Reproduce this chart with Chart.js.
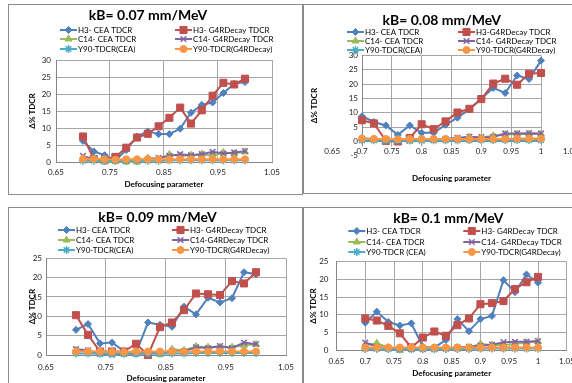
<!DOCTYPE html>
<html>
<head>
<meta charset="utf-8">
<script src="https://cdn.jsdelivr.net/npm/chart.js@4/dist/chart.umd.min.js"></script>
<style>
  html, body { margin: 0; padding: 0; background: #fff; width: 572px; height: 383px; overflow: hidden; }
  .panel { position: absolute; border: 1px solid #8c8c8c; background: #fff; overflow: hidden; }
  .panel canvas { position: absolute; left: 0; top: 0; }
</style>
</head>
<body>
<div class="panel" style="left:8px;top:4px;width:293px;height:189px"><canvas id="c07" width="293" height="189"></canvas></div>
<div class="panel" style="left:303px;top:4px;width:278px;height:188px"><canvas id="c08" width="278" height="188"></canvas></div>
<div class="panel" style="left:8px;top:207px;width:293px;height:188px"><canvas id="c09" width="293" height="188"></canvas></div>
<div class="panel" style="left:303px;top:207px;width:278px;height:188px"><canvas id="c10" width="278" height="188"></canvas></div>
<script>
// defocusing parameter of every point
const xValues = [0.70, 0.72, 0.74, 0.76, 0.78, 0.80, 0.82, 0.84, 0.86, 0.88, 0.90, 0.92, 0.94, 0.96, 0.98, 1.00];
const xTicksWide = [0.65, 0.75, 0.85, 0.95, 1.05];
const xTicksFine = [0.65, 0.70, 0.75, 0.80, 0.85, 0.90, 0.95, 1.00, 1.05];

// kB = 0.07
const h3Cea07  = [6.2, 3.1, 2.0, 0.5, 3.5, 7.5, 9.0, 8.2, 8.2, 9.8, 14.5, 16.8, 17.5, 20.3, 23.0, 23.5];
const h3G4r07  = [7.5, 0.9, 0.5, 1.5, 4.2, 7.2, 8.3, 10.5, 13.0, 16.0, 11.3, 15.2, 19.5, 23.3, 22.8, 24.5];
const c14Cea07 = [1.0, 0.5, 0.1, 0.2, 0.0, 0.0, 1.2, 0.8, 2.2, 1.8, 2.0, 2.3, 1.8, 2.8, 2.5, 3.0];
const c14G4r07 = [1.8, 0.8, 0.6, 0.5, 0.5, 0.5, 0.8, 1.2, 1.8, 2.3, 2.0, 2.3, 3.0, 2.5, 2.8, 3.2];
const y90Cea07 = [0.4, 0.4, 0.3, 0.3, 0.3, 0.3, 0.4, 0.4, 0.5, 0.5, 0.5, 0.5, 0.5, 0.5, 0.5, 0.5];
const y90G4r07 = [0.9, 0.9, 0.8, 0.7, 0.8, 0.8, 0.8, 0.8, 0.8, 0.8, 0.8, 0.8, 0.8, 0.8, 0.8, 0.8];
const labels07 = ["H3- CEA TDCR", "H3- G4RDecay TDCR", "C14- CEA TDCR", "C14- G4RDecay TDCR", "Y90-TDCR(CEA)", "Y90-TDCR(G4RDecay)"];

// kB = 0.08
const h3Cea08  = [8.8, 6.8, 5.6, 2.3, 5.6, 3.0, 3.0, 5.8, 8.3, 11.2, 15.0, 18.7, 16.9, 23.0, 21.8, 28.2];
const h3G4r08  = [7.4, 6.3, 0.2, 0.0, 1.2, 6.0, 4.3, 7.0, 10.1, 11.4, 14.8, 20.2, 21.9, 19.8, 23.6, 23.9];
const c14Cea08 = [1.2, 0.8, 0.3, 0.3, 0.3, 0.5, 0.5, 0.6, 1.0, 1.6, 1.4, 2.0, 2.4, 2.6, 2.6, 2.6];
const c14G4r08 = [0.9, 0.6, 0.1, 0.1, 0.3, 0.6, 0.7, 0.9, 1.3, 1.6, 1.5, 1.6, 2.8, 2.8, 2.9, 2.8];
const y90Cea08 = [0.4, 0.4, 0.3, 0.3, 0.3, 0.3, 0.4, 0.4, 0.4, 0.5, 0.5, 0.5, 0.5, 0.5, 0.5, 0.5];
const y90G4r08 = [1.0, 0.9, 0.9, 0.8, 0.9, 0.9, 0.9, 0.9, 0.9, 0.9, 0.9, 0.9, 0.9, 1.0, 1.0, 1.0];
const labels08 = ["H3- CEA TDCR", "H3-G4RDecay TDCR", "C14- CEA TDCR", "C14- G4RDecay TDCR", "Y90-TDCR(CEA)", "Y90-TDCR(G4RDecay)"];

// kB = 0.09
const h3Cea09  = [6.5, 8.0, 3.0, 3.2, 1.0, 0.4, 8.4, 7.8, 7.3, 12.5, 10.5, 14.8, 13.6, 14.7, 21.4, 20.9];
const h3G4r09  = [10.3, 5.2, 0.9, 0.9, 0.9, 2.9, 0.0, 7.2, 8.4, 11.6, 15.9, 15.7, 15.5, 19.1, 18.5, 21.4];
const c14Cea09 = [1.2, 1.0, 0.5, 0.3, 0.3, 0.5, 0.7, 0.1, 1.5, 1.2, 2.2, 2.0, 2.0, 2.0, 2.5, 2.8];
const c14G4r09 = [1.5, 1.2, 0.3, 0.1, 0.3, 0.3, 0.5, 0.5, 1.0, 1.0, 2.0, 1.8, 2.3, 1.8, 3.2, 2.8];
const y90Cea09 = [0.4, 0.4, 0.3, 0.3, 0.3, 0.3, 0.3, 0.4, 0.4, 0.4, 0.5, 0.5, 0.5, 0.5, 0.5, 0.5];
const y90G4r09 = [0.9, 0.9, 0.9, 0.8, 0.8, 0.9, 0.9, 0.9, 0.9, 0.9, 0.9, 0.9, 0.9, 0.9, 0.9, 0.9];
const labels09 = ["H3- CEA TDCR", "H3- G4RDecay TDCR", "C14- CEA TDCR", "C14-G4RDecay TDCR", "Y90-TDCR(CEA)", "Y90-TDCR(G4RDecay)"];

// kB = 0.1
const h3Cea10  = [7.8, 10.9, 8.0, 7.0, 7.6, 1.0, 0.8, 2.9, 8.8, 5.4, 8.8, 9.7, 19.8, 16.4, 21.4, 19.1];
const h3G4r10  = [9.0, 8.4, 6.9, 4.8, 0.8, 3.6, 5.3, 4.1, 7.1, 9.0, 13.0, 13.3, 13.9, 17.3, 19.2, 20.7];
const c14Cea10 = [1.5, 2.0, 0.8, 0.0, 0.5, 0.5, 0.5, 0.6, 0.8, 0.8, 1.8, 1.5, 1.5, 1.8, 2.2, 2.5];
const c14G4r10 = [2.2, 1.0, 0.6, 0.3, 0.3, 0.3, 0.3, 0.5, 0.8, 1.0, 1.3, 1.6, 2.3, 2.4, 2.4, 2.6];
const y90Cea10 = [0.4, 0.4, 0.3, 0.3, 0.3, 0.3, 0.3, 0.4, 0.4, 0.4, 0.5, 0.5, 0.5, 0.5, 0.5, 0.5];
const y90G4r10 = [0.8, 0.8, 0.8, 0.8, 0.8, 0.8, 0.8, 0.8, 0.8, 0.8, 0.8, 0.8, 0.8, 0.8, 0.8, 0.8];
const labels10 = ["H3- CEA TDCR", "H3- G4RDecay TDCR", "C14- CEA TDCR", "C14- G4RDecay TDCR", "Y90-TDCR (CEA)", "Y90-TDCR(G4RDecay)"];

// excel 2010 palette + markers
const seriesColors  = ["#4F81BD", "#C0504D", "#9BBB59", "#8064A2", "#4BACC6", "#F79646"];
const seriesMarkers = ["rectRot", "rect", "triangle", "crossRot", "star", "circle"];
const seriesRadius  = [3.5, 5, 4, 4, 4, 3.5];

const FONT = "Lato, 'Liberation Sans', sans-serif";
const gridColor = "#a6a6a6";
const axisColor = "#868686";

Chart.defaults.font.family = FONT;
Chart.defaults.color = "#000";

// title + 2 column legend, drawn like the excel one
const panelHeader = {
  id: "panelHeader",
  beforeDatasetsDraw(chart, args, o) {
    // excel stops the grid just under the zero line when the axis crosses at 0
    if (!o.cutBelowZero) return;
    const area = chart.chartArea;
    const y0 = chart.scales.y.getPixelForValue(0) + 5;
    const ctx = chart.ctx;
    ctx.save();
    ctx.fillStyle = "#fff";
    ctx.fillRect(area.left - 2, y0, area.right - area.left + 4, area.bottom - y0 + 2);
    ctx.restore();
  },
  afterDraw(chart, args, o) {
    const ctx = chart.ctx;
    ctx.save();
    ctx.fillStyle = "#000";
    ctx.font = "bold 14px " + FONT;
    ctx.textAlign = "center";
    ctx.textBaseline = "middle";
    ctx.fillText(o.title, o.titleX, o.titleY);

    chart.data.datasets.forEach((ds, i) => {
      const x = o.legendCols[i % 2];
      const y = o.legendRows[Math.floor(i / 2)];
      ctx.strokeStyle = ds.borderColor;
      ctx.lineWidth = 2;
      ctx.beginPath();
      ctx.moveTo(x, y);
      ctx.lineTo(x + 17, y);
      ctx.stroke();
      ctx.fillStyle = ds.pointBackgroundColor;
      ctx.lineWidth = ds.pointBorderWidth;
      Chart.helpers.drawPoint(ctx, {
        pointStyle: ds.pointStyle, radius: ds.pointRadius, rotation: 0, borderWidth: ds.pointBorderWidth
      }, x + 8.5, y);
      ctx.fillStyle = "#000";
      ctx.font = "8px " + FONT;
      ctx.textAlign = "left";
      ctx.fillText(ds.label, x + 18, y + 0.5);
    });
    ctx.restore();
  }
};

function makeChart(canvasId, p) {
  const canvas = document.getElementById(canvasId);
  const W = canvas.width, H = canvas.height;

  const datasets = p.series.map((vals, i) => ({
    label: p.labels[i],
    data: vals.map((y, j) => ({ x: xValues[j], y: y })),
    borderColor: seriesColors[i],
    backgroundColor: seriesColors[i],
    pointBackgroundColor: seriesColors[i],
    pointBorderColor: seriesColors[i],
    pointStyle: seriesMarkers[i],
    pointRadius: seriesRadius[i],
    pointBorderWidth: (i === 3 || i === 4) ? 1.5 : 1,
    borderWidth: 2,
    tension: 0,
    clip: false,
    order: 5 - i   // later series on top, like excel
  }));

  return new Chart(canvas, {
    type: "line",
    data: { datasets: datasets },
    plugins: [panelHeader],
    options: {
      responsive: false,
      animation: false,
      events: [],
      layout: {
        padding: { left: 0, top: p.area.top, right: W - p.area.right, bottom: p.xAtZero ? H - p.area.bottom : 0 }
      },
      plugins: {
        legend: { display: false },
        tooltip: { enabled: false },
        panelHeader: {
          title: p.title, titleX: p.titleX, titleY: p.titleY,
          legendCols: p.legendCols, legendRows: p.legendRows,
          cutBelowZero: !!p.xAtZero
        }
      },
      scales: {
        x: {
          type: "linear",
          min: p.xMin,
          max: p.xMax,
          position: p.xAtZero ? { y: 0 } : "bottom",
          afterBuildTicks: s => { s.ticks = p.xTicks.map(v => ({ value: v })); },
          afterFit: s => { s.height = p.xAtZero ? p.xAxisHeight : H - p.area.bottom; },
          ticks: {
            autoSkip: false, maxRotation: 0, padding: p.xTickPad, z: 1,
            font: { size: 8 }, color: "#222",
            callback: v => String(+Number(v).toFixed(2))
          },
          grid: {
            drawTicks: false,
            color: c => (c.tick && (c.tick.value < p.xMin - 1e-6 || c.tick.value > p.xMax + 1e-6)) ? "rgba(0,0,0,0)" : gridColor
          },
          border: { color: axisColor },
          title: {
            display: true, text: "Defocusing parameter", color: "#000",
            font: { size: 8, weight: "bold" }, padding: { top: 0, bottom: p.xTitlePad }
          }
        },
        y: {
          type: "linear",
          min: p.yMin,
          max: p.yMax,
          afterFit: s => { s.width = p.area.left; },
          ticks: { stepSize: 5, padding: p.yTickPad, z: 1, font: { size: 8 }, color: "#222" },
          grid: {
            drawTicks: false,
            color: c => (c.tick && c.tick.value < 0) ? "rgba(0,0,0,0)" : gridColor
          },
          border: { color: axisColor },
          title: {
            display: true, text: "Δ% TDCR", color: "#000",
            font: { size: 8, weight: "bold" }, padding: { top: p.yTitlePad, bottom: 0 }
          }
        }
      }
    }
  });
}

makeChart("c07", {
  series: [h3Cea07, h3G4r07, c14Cea07, c14G4r07, y90Cea07, y90G4r07],
  labels: labels07,
  title: "kB= 0.07 mm/MeV", titleX: 139, titleY: 10,
  legendCols: [51, 166], legendRows: [25, 34, 44],
  xMin: 0.65, xMax: 1.05, xTicks: xTicksWide, yMin: 0, yMax: 30,
  area: { left: 47, right: 263, top: 55, bottom: 157 },
  xTickPad: 6, yTickPad: 5, xTitlePad: 5.2, yTitlePad: 18.2
});

makeChart("c08", {
  series: [h3Cea08, h3G4r08, c14Cea08, c14G4r08, y90Cea08, y90G4r08],
  labels: labels08,
  title: "kB= 0.08 mm/MeV", titleX: 137.7, titleY: 15,
  legendCols: [43, 154], legendRows: [27, 36, 45],
  xMin: 0.70, xMax: 1.00, xTicks: xTicksFine, yMin: -5, yMax: 30,
  xAtZero: true, xAxisHeight: 41.3,
  area: { left: 58, right: 237, top: 50.5, bottom: 150.8 },
  xTickPad: 5, yTickPad: 4, xTitlePad: 0, yTitlePad: 5.2
});

makeChart("c09", {
  series: [h3Cea09, h3G4r09, c14Cea09, c14G4r09, y90Cea09, y90G4r09],
  labels: labels09,
  title: "kB= 0.09 mm/MeV", titleX: 148.5, titleY: 9.7,
  legendCols: [49, 163], legendRows: [22, 32, 42],
  xMin: 0.65, xMax: 1.05, xTicks: xTicksWide, yMin: 0, yMax: 25,
  area: { left: 37, right: 277, top: 50.3, bottom: 147 },
  xTickPad: 8, yTickPad: 4, xTitlePad: 12.9, yTitlePad: 18.5
});

makeChart("c10", {
  series: [h3Cea10, h3G4r10, c14Cea10, c14G4r10, y90Cea10, y90G4r10],
  labels: labels10,
  title: "kB= 0.1 mm/MeV", titleX: 144.3, titleY: 10.3,
  legendCols: [44.3, 159.3], legendRows: [23, 34, 44],
  xMin: 0.65, xMax: 1.05, xTicks: xTicksFine, yMin: 0, yMax: 25,
  area: { left: 32.5, right: 262.8, top: 53.7, bottom: 142.3 },
  xTickPad: 6, yTickPad: 8, xTitlePad: 18.2, yTitlePad: 4.5
});
</script>
</body>
</html>
